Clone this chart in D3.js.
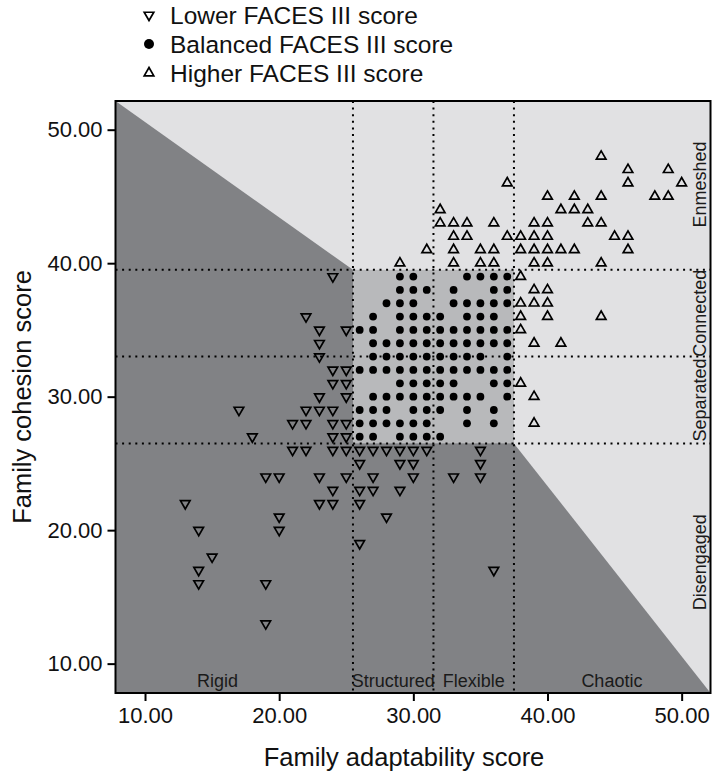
<!DOCTYPE html>
<html>
<head>
<meta charset="utf-8">
<script src="https://cdn.jsdelivr.net/npm/d3@7"></script>
<style>
  html, body { margin: 0; padding: 0; background: #ffffff; }
  svg { display: block; }
  text { font-family: "Liberation Sans", Arial, Helvetica, sans-serif; fill: #111; }
</style>
</head>
<body>
<svg id="chart" width="713" height="775"></svg>
<script>
// ---------------- data ----------------
const xTickValues = [10, 20, 30, 40, 50];
const yTickValues = [10, 20, 30, 40, 50];
const xTitle = "Family adaptability score";
const yTitle = "Family cohesion score";

const adaptabilityCuts = [25.5, 31.5, 37.5];
const cohesionCuts = [26.5, 33, 39.5];

const adaptabilityLabels = ["Rigid", "Structured", "Flexible", "Chaotic"];
const adaptabilityLabelX = [15.4, 28.5, 34.5, 44.8];
const cohesionLabels = ["Disengaged", "Separated", "Connected", "Enmeshed"];
const cohesionLabelY = [17.6, 29.75, 36.25, 45.9];

const legendLabels = ["Lower FACES III score", "Balanced FACES III score", "Higher FACES III score"];

// Lower FACES III score (adaptability, cohesion)
const lowerPoints = [
  [13,22],[14,20],[14,17],[14,16],[15,18],[17,29],[18,27],
  [19,24],[19,16],[19,13],[20,24],[20,21],[20,20],
  [21,28],[21,26],
  [22,36],[22,29],[22,28],[22,26],
  [23,35],[23,34],[23,33],[23,30],[23,29],[23,24],[23,22],
  [24,39],[24,32],[24,31],[24,29],[24,28],[24,27],[24,26],[24,23],[24,22],
  [25,35],[25,32],[25,31],[25,30],[25,28],[25,27],[25,26],[25,24],
  [26,26],[26,25],[26,23],[26,22],[26,19],
  [27,26],[27,24],[27,23],
  [28,26],[28,21],
  [29,26],[29,25],[29,23],
  [30,26],[30,25],[30,24],
  [31,26],
  [33,24],
  [35,26],[35,25],[35,24],
  [36,17]
];

// Balanced FACES III score
const balancedPoints = [
  [29,39],[30,39],[34,39],[35,39],[36,39],[37,39],
  [29,38],[30,38],[31,38],[33,38],[36,38],[37,38],
  [28,37],[29,37],[30,37],[33,37],[34,37],[35,37],[36,37],[37,37],
  [27,36],[29,36],[30,36],[31,36],[32,36],[34,36],[35,36],[36,36],
  [26,35],[27,35],[29,35],[30,35],[31,35],[32,35],[33,35],[34,35],[35,35],[36,35],[37,35],
  [27,34],[28,34],[29,34],[30,34],[31,34],[32,34],[33,34],[34,34],[35,34],[36,34],[37,34],
  [27,33],[28,33],[29,33],[30,33],[31,33],[32,33],[33,33],[34,33],[35,33],[37,33],
  [26,32],[27,32],[28,32],[29,32],[30,32],[31,32],[32,32],[33,32],[34,32],[35,32],[36,32],[37,32],
  [29,31],[30,31],[31,31],[32,31],[33,31],[36,31],[37,31],
  [27,30],[28,30],[29,30],[30,30],[31,30],[32,30],[33,30],[34,30],[35,30],[37,30],
  [26,29],[27,29],[28,29],[30,29],[31,29],[32,29],[34,29],[36,29],
  [26,28],[27,28],[28,28],[29,28],[30,28],[31,28],[34,28],[36,28],
  [26,27],[27,27],[29,27],[30,27],[31,27],[32,27]
];

// Higher FACES III score
const higherPoints = [
  [44,48],
  [46,47],[49,47],
  [37,46],[46,46],[50,46],
  [40,45],[42,45],[44,45],[48,45],[49,45],
  [32,44],[41,44],[42,44],[43,44],
  [32,43],[33,43],[34,43],[36,43],[39,43],[40,43],[43,43],[44,43],
  [33,42],[34,42],[37,42],[38,42],[39,42],[40,42],[45,42],[46,42],
  [31,41],[33,41],[35,41],[36,41],[38,41],[39,41],[40,41],[41,41],[42,41],[46,41],
  [29,40],[33,40],[35,40],[36,40],[39,40],[40,40],[44,40],
  [38,39],
  [39,38],[40,38],
  [38,37],[39,37],[40,37],
  [38,36],[40,36],[44,36],
  [38,35],
  [39,34],[41,34],
  [38,31],
  [39,30],
  [39,28]
];

// ---------------- layout ----------------
const svg = d3.select("#chart");
const plot = { left: 115.5, right: 710.5, top: 101, bottom: 693 };
const domain = [7.8, 52.15];

const x = d3.scaleLinear().domain(domain).range([plot.left, plot.right]);
const y = d3.scaleLinear().domain(domain).range([plot.bottom, plot.top]);

const colDark = "#818285", colLight = "#e1e1e3", colBox = "#b8b9bb";

// background (light)
svg.append("rect")
  .attr("x", x(domain[0])).attr("y", y(domain[1]))
  .attr("width", x(domain[1]) - x(domain[0]))
  .attr("height", y(domain[0]) - y(domain[1]))
  .attr("fill", colLight);

// dark region (lower-left)
const darkPoly = [
  [domain[0], domain[1]],
  [adaptabilityCuts[0], cohesionCuts[2]],
  [adaptabilityCuts[2], cohesionCuts[0]],
  [domain[1], domain[0]],
  [domain[0], domain[0]]
];
svg.append("path")
  .attr("d", d3.line().x(d => x(d[0])).y(d => y(d[1]))(darkPoly) + "Z")
  .attr("fill", colDark);

// balanced box
svg.append("rect")
  .attr("x", x(adaptabilityCuts[0])).attr("y", y(cohesionCuts[2]))
  .attr("width", x(adaptabilityCuts[2]) - x(adaptabilityCuts[0]))
  .attr("height", y(cohesionCuts[0]) - y(cohesionCuts[2]))
  .attr("fill", colBox);

// dotted cut lines
const dash = "2,4.6";
svg.append("g").selectAll("line").data(adaptabilityCuts).join("line")
  .attr("x1", d => x(d)).attr("x2", d => x(d))
  .attr("y1", y(domain[1])).attr("y2", y(domain[0]))
  .attr("stroke", "#000").attr("stroke-width", 2).attr("stroke-dasharray", dash);
svg.append("g").selectAll("line").data(cohesionCuts).join("line")
  .attr("y1", d => y(d)).attr("y2", d => y(d))
  .attr("x1", x(domain[0])).attr("x2", x(domain[1]))
  .attr("stroke", "#000").attr("stroke-width", 2).attr("stroke-dasharray", dash);

// markers
const tri = d3.symbol().type(d3.symbolTriangle).size(40);

svg.append("g").selectAll("path").data(lowerPoints).join("path")
  .attr("d", tri())
  .attr("transform", d => `translate(${x(d[0])},${y(d[1])}) rotate(180)`)
  .attr("fill", "none").attr("stroke", "#000").attr("stroke-width", 1.7);

svg.append("g").selectAll("circle").data(balancedPoints).join("circle")
  .attr("cx", d => x(d[0])).attr("cy", d => y(d[1])).attr("r", 3.9)
  .attr("fill", "#000");

svg.append("g").selectAll("path").data(higherPoints).join("path")
  .attr("d", tri())
  .attr("transform", d => `translate(${x(d[0])},${y(d[1])})`)
  .attr("fill", "none").attr("stroke", "#000").attr("stroke-width", 1.7);

// region labels
svg.append("g").selectAll("text").data(adaptabilityLabels).join("text")
  .attr("x", (d, i) => x(adaptabilityLabelX[i])).attr("y", plot.bottom - 6)
  .attr("text-anchor", "middle").attr("font-size", 18).style("fill", "#1a1a1a")
  .text(d => d);
svg.append("g").selectAll("text").data(cohesionLabels).join("text")
  .attr("transform", (d, i) => `translate(${plot.right - 5},${y(cohesionLabelY[i])}) rotate(-90)`)
  .attr("text-anchor", "middle").attr("font-size", 18).style("fill", "#1a1a1a")
  .text(d => d);

// frame
svg.append("rect")
  .attr("x", plot.left).attr("y", plot.top)
  .attr("width", plot.right - plot.left).attr("height", plot.bottom - plot.top)
  .attr("fill", "none").attr("stroke", "#000").attr("stroke-width", 2);

// axes
const fmt = d3.format(".2f");
const xAxis = svg.append("g").attr("transform", `translate(0,${plot.bottom})`)
  .call(d3.axisBottom(x).tickValues(xTickValues).tickFormat(fmt).tickSize(8).tickPadding(6));
const yAxis = svg.append("g").attr("transform", `translate(${plot.left},0)`)
  .call(d3.axisLeft(y).tickValues(yTickValues).tickFormat(fmt).tickSize(8).tickPadding(5));
[xAxis, yAxis].forEach(a => {
  a.select(".domain").remove();
  a.selectAll(".tick line").attr("stroke", "#000").attr("stroke-width", 2);
  a.selectAll(".tick text").attr("font-size", 22).attr("font-family", "Liberation Sans, Arial, sans-serif").style("fill", "#111");
});

// axis titles
svg.append("text").attr("x", 404).attr("y", 766)
  .attr("text-anchor", "middle").attr("font-size", 25.5).text(xTitle);
svg.append("text").attr("transform", `translate(31,${(plot.top + plot.bottom) / 2}) rotate(-90)`)
  .attr("text-anchor", "middle").attr("font-size", 25.5).text(yTitle);

// legend
const legend = svg.append("g").attr("transform", "translate(149,0)");
const legRows = legend.selectAll("g").data(legendLabels).join("g")
  .attr("transform", (d, i) => `translate(0,${15 + i * 29})`);
legRows.append("text").attr("x", 21).attr("y", 8.5).attr("font-size", 24.5).text(d => d);
legRows.filter((d, i) => i === 0).append("path")
  .attr("d", tri()).attr("transform", "rotate(180)")
  .attr("fill", "none").attr("stroke", "#000").attr("stroke-width", 1.7);
legRows.filter((d, i) => i === 1).append("circle").attr("r", 5).attr("fill", "#000");
legRows.filter((d, i) => i === 2).append("path")
  .attr("d", tri())
  .attr("fill", "none").attr("stroke", "#000").attr("stroke-width", 1.7);
</script>
</body>
</html>
